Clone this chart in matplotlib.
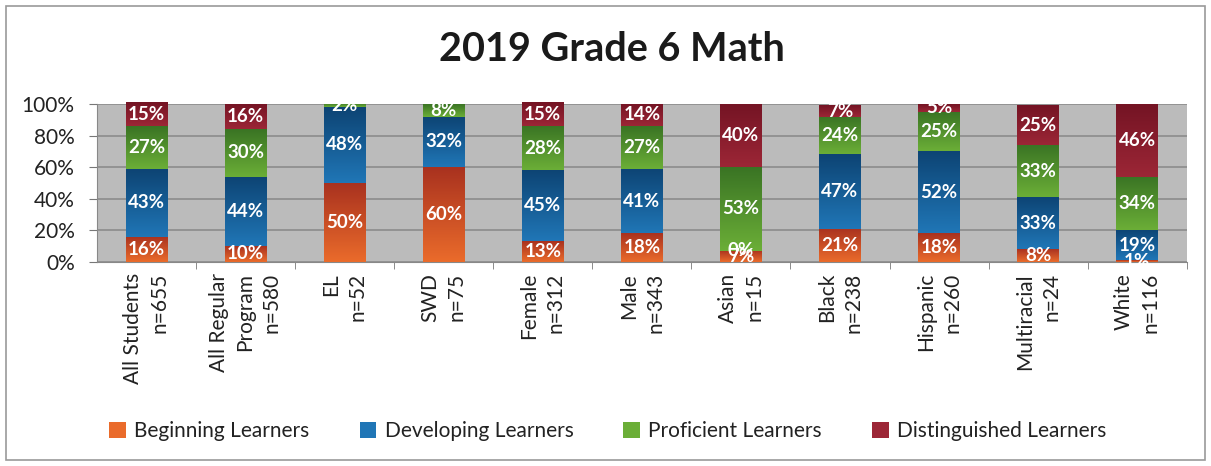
import matplotlib
matplotlib.use('Agg')
import matplotlib.pyplot as plt
from matplotlib.patches import Rectangle
from matplotlib.colors import LinearSegmentedColormap
import numpy as np

plt.rcParams['font.family'] = ['Lato', 'DejaVu Sans']

# categories and percentages per achievement level (None = no label shown)
groups = ['All Students\nn=655', 'All Regular\nProgram\nn=580', 'EL\nn=52', 'SWD\nn=75',
          'Female\nn=312', 'Male\nn=343', 'Asian\nn=15', 'Black\nn=238',
          'Hispanic\nn=260', 'Multiracial\nn=24', 'White\nn=116']
beginning = [16, 10, 50, 60, 13, 18, 7, 21, 18, 8, 1]
developing = [43, 44, 48, 32, 45, 41, 0, 47, 52, 33, 19]
proficient = [27, 30, 2, 8, 28, 27, 53, 24, 25, 33, 34]
distinguished = [15, 16, None, None, 15, 14, 40, 7, 5, 25, 46]
level_names = ['Beginning Learners', 'Developing Learners', 'Proficient Learners', 'Distinguished Learners']
# (top, bottom) gradient colours of each segment
grads = [('#A9321F', '#EA6B2B'), ('#0D4474', '#2076B6'), ('#3A7424', '#6BAE37'), ('#741424', '#9C2636')]

fig = plt.figure(figsize=(12.11, 4.66), dpi=100)
ax = fig.add_axes([0.080, 0.438, 0.900, 0.339])
ax.set_facecolor('#BBBBBB')

x = np.arange(len(groups))
bottom = np.zeros(len(groups))
handles = []
grad = np.linspace(0, 1, 64).reshape(-1, 1)
for vals, name, (ctop, cbot) in zip([beginning, developing, proficient, distinguished], level_names, grads):
    v = np.array([0 if a is None else a for a in vals], dtype=float)
    cmap = LinearSegmentedColormap.from_list(name, [cbot, ctop])
    bars = ax.bar(x, v, 0.42, bottom=bottom, color=cbot, label=name, zorder=3)
    handles.append(bars)
    for p in bars:
        if p.get_height() <= 0:
            continue
        im = ax.imshow(grad, cmap=cmap, origin='lower', aspect='auto', zorder=3.5,
                       extent=(p.get_x(), p.get_x() + p.get_width(), p.get_y(), p.get_y() + p.get_height()))
        im.set_clip_path(p)
    for xi, b, a, h in zip(x, bottom, vals, v):
        if a is None:
            continue
        ax.text(xi, b + h / 2, f'{a}%', ha='center', va='center', color='white',
                fontsize=13.5, fontweight='bold', zorder=4)
    bottom += v

ax.set_xlim(-0.5, len(groups) - 0.5)
ax.set_ylim(0, 100)
ax.set_yticks([0, 20, 40, 60, 80, 100])
ax.set_yticklabels([f'{t}%' for t in range(0, 101, 20)], fontsize=15, color='#222222')
ax.yaxis.grid(True, color='#8C8C8C', linewidth=1.2, zorder=1)
ax.set_xticks(x + 0.5, minor=True)
ax.set_xticks(x)
ax.set_xticklabels(groups, rotation=90, fontsize=15, color='#222222',
                   va='top', ha='center', multialignment='right', linespacing=1.4)
ax.tick_params(axis='x', which='major', length=0, pad=8)
ax.tick_params(axis='x', which='minor', length=5, color='#777777')
ax.tick_params(axis='y', length=6, color='#777777', pad=10)
for s in ['top', 'right']:
    ax.spines[s].set_visible(False)
ax.spines['left'].set_color('#888888')
ax.spines['bottom'].set_color('#888888')

fig.text(0.505, 0.893, '2019 Grade 6 Math', ha='center', va='center',
         fontsize=28.5, fontweight='bold', color='#1A1A1A')

fig.legend(handles=handles, labels=level_names, loc='center', bbox_to_anchor=(0.502, 0.075),
           ncol=4, frameon=False, fontsize=15, handlelength=0.8, handleheight=0.8,
           columnspacing=2.4, handletextpad=0.4, labelcolor='#222222')

fig.patches.append(Rectangle((0.005, 0.012), 0.99, 0.975, transform=fig.transFigure,
                             fill=False, edgecolor='#9A9A9A', linewidth=1.2))

fig.savefig('out.png', dpi=100, facecolor='white')
